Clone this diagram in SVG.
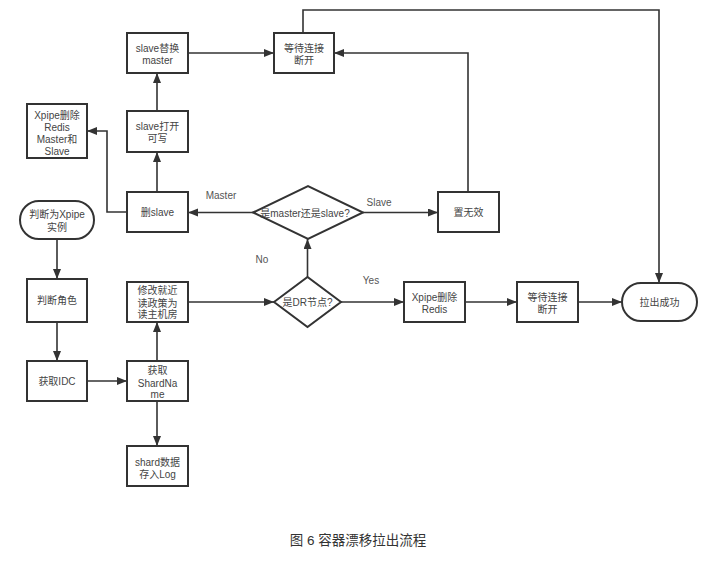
<svg xmlns="http://www.w3.org/2000/svg" width="704" height="568" viewBox="0 0 704 568">
<style>
.n{fill:#fff;stroke:#333;stroke-width:2}
.t{font-family:"Liberation Sans","Noto Sans CJK SC",sans-serif;font-size:10px;fill:#444;text-anchor:middle}
.l{font-family:"Liberation Sans","Noto Sans CJK SC",sans-serif;font-size:10px;fill:#555;text-anchor:middle}
.c{fill:none;stroke:#333;stroke-width:1.6}
.cap{font-family:"Liberation Sans","Noto Sans CJK SC",sans-serif;font-size:13.5px;fill:#333;text-anchor:middle}
</style>
<defs>
<marker id="a" markerUnits="userSpaceOnUse" markerWidth="11" markerHeight="9" refX="10" refY="4" orient="auto">
<path d="M0,0 L10,4 L0,8 z" fill="#333"/>
</marker>
</defs>
<rect width="704" height="568" fill="#fff"/>
<g id="connectors" class="c" marker-end="url(#a)">
<path d="M57,239 V279"/>
<path d="M57,322 V361"/>
<path d="M87,381 H127"/>
<path d="M157,361 V322"/>
<path d="M157,401 V446"/>
<path d="M188,302 H274"/>
<path d="M307.5,277 V239"/>
<path d="M341,302 H404"/>
<path d="M465,302 H517"/>
<path d="M578,302 H622"/>
<path d="M253,212.5 H188"/>
<path d="M363,212.5 H438"/>
<path d="M468,192 V53 H334"/>
<path d="M127,212 H107 V131 H87"/>
<path d="M157,192 V152"/>
<path d="M157,111 V73"/>
<path d="M188,53 H274"/>
<path d="M303,33 V10 H659 V283"/>
</g>
<g id="labels">
<text class="l" x="221" y="199">Master</text>
<text class="l" x="379" y="206">Slave</text>
<text class="l" x="262" y="263">No</text>
<text class="l" x="371" y="284">Yes</text>
</g>
<g id="n-start"><rect class="n" x="20" y="201" width="74" height="38" rx="19"/><text class="t" x="57" y="218">判断为Xpipe</text><text class="t" x="57" y="231">实例</text></g>
<g id="n-role"><rect class="n" x="27" y="279" width="60" height="43"/><text class="t" x="57" y="304">判断角色</text></g>
<g id="n-idc"><rect class="n" x="27" y="361" width="60" height="40"/><text class="t" x="57" y="385">获取IDC</text></g>
<g id="n-shard"><rect class="n" x="127" y="361" width="61" height="40"/><text class="t" x="157.5" y="374">获取</text><text class="t" x="157.5" y="386.5">ShardNa</text><text class="t" x="157.5" y="398">me</text></g>
<g id="n-log"><rect class="n" x="127" y="446" width="61" height="40"/><text class="t" x="157.5" y="465.5">shard数据</text><text class="t" x="157.5" y="478">存入Log</text></g>
<g id="n-policy"><rect class="n" x="127" y="282" width="61" height="40"/><text class="t" x="157.5" y="294">修改就近</text><text class="t" x="157.5" y="306.5">读政策为</text><text class="t" x="157.5" y="318">读主机房</text></g>
<g id="n-dr"><polygon class="n" points="274,302 307.5,277 341,302 307.5,327"/><text class="t" x="307.5" y="306">是DR节点?</text></g>
<g id="n-ms"><polygon class="n" points="253,212.5 308,186 363,212.5 308,239"/><text class="t" x="305" y="216.5">是master还是slave?</text></g>
<g id="n-delslave"><rect class="n" x="127" y="192" width="61" height="40"/><text class="t" x="157.5" y="216">删slave</text></g>
<g id="n-xdelms"><rect class="n" x="27" y="104" width="60" height="54"/><text class="t" x="57" y="119">Xpipe删除</text><text class="t" x="57" y="131">Redis</text><text class="t" x="57" y="142.5">Master和</text><text class="t" x="57" y="154.5">Slave</text></g>
<g id="n-open"><rect class="n" x="127" y="111" width="61" height="41"/><text class="t" x="157.5" y="130">slave打开</text><text class="t" x="157.5" y="142">可写</text></g>
<g id="n-replace"><rect class="n" x="127" y="33" width="61" height="40"/><text class="t" x="157.5" y="52">slave替换</text><text class="t" x="157.5" y="64">master</text></g>
<g id="n-wait1"><rect class="n" x="274" y="33" width="60" height="40"/><text class="t" x="304" y="52">等待连接</text><text class="t" x="304" y="64">断开</text></g>
<g id="n-invalid"><rect class="n" x="438" y="192" width="61" height="40"/><text class="t" x="468.5" y="216">置无效</text></g>
<g id="n-xdel"><rect class="n" x="404" y="282" width="61" height="40"/><text class="t" x="434.5" y="301">Xpipe删除</text><text class="t" x="434.5" y="313">Redis</text></g>
<g id="n-wait2"><rect class="n" x="517" y="282" width="61" height="40"/><text class="t" x="547.5" y="301">等待连接</text><text class="t" x="547.5" y="313">断开</text></g>
<g id="n-end"><rect class="n" x="622" y="283" width="75" height="38" rx="19"/><text class="t" x="659.5" y="306">拉出成功</text></g>
<text class="cap" x="358" y="545">图 6 容器漂移拉出流程</text>
</svg>
